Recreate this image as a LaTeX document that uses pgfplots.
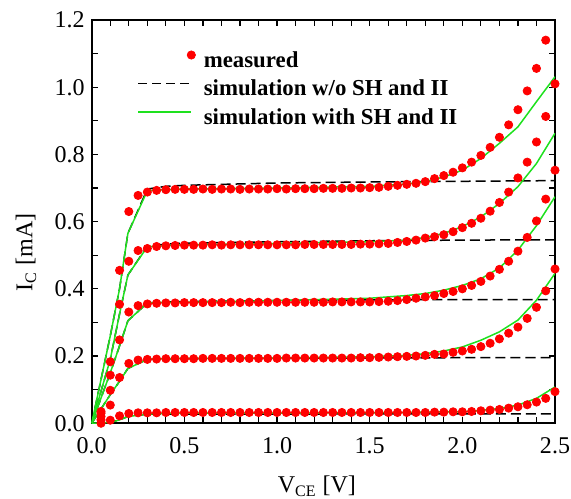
\documentclass[border=0pt]{standalone}
\usepackage{fontspec}
\setmainfont{Liberation Serif}
\usepackage{pgfplots}
\usepackage{pgfplotstable}
\pgfplotsset{compat=1.18}
\definecolor{simgreen}{RGB}{30,225,30}

% measured I_C [mA] for five base currents
\pgfplotstableread{
v    c1    c2    c3    c4    c5
0.05 0.035 0.030 0.020 0.010 0.000
0.10 0.183 0.143 0.098 0.054 0.009
0.15 0.455 0.354 0.248 0.136 0.022
0.20 0.630 0.482 0.331 0.178 0.029
0.25 0.678 0.514 0.350 0.188 0.031
0.30 0.688 0.520 0.355 0.190 0.031
0.35 0.693 0.526 0.357 0.191 0.031
0.40 0.695 0.528 0.358 0.192 0.032
0.45 0.696 0.529 0.358 0.192 0.032
0.50 0.696 0.530 0.359 0.192 0.032
0.55 0.696 0.530 0.359 0.192 0.032
0.60 0.697 0.530 0.359 0.193 0.032
0.65 0.696 0.531 0.359 0.193 0.032
0.70 0.697 0.530 0.359 0.193 0.032
0.75 0.697 0.531 0.360 0.193 0.032
0.80 0.696 0.531 0.359 0.193 0.032
0.85 0.697 0.531 0.360 0.193 0.032
0.90 0.697 0.531 0.360 0.193 0.032
0.95 0.697 0.531 0.360 0.193 0.032
1.00 0.698 0.531 0.360 0.193 0.032
1.05 0.697 0.531 0.360 0.194 0.032
1.10 0.698 0.531 0.360 0.194 0.032
1.15 0.698 0.532 0.360 0.194 0.032
1.20 0.698 0.532 0.360 0.194 0.032
1.25 0.699 0.532 0.360 0.194 0.032
1.30 0.699 0.532 0.361 0.194 0.032
1.35 0.699 0.532 0.361 0.194 0.032
1.40 0.700 0.532 0.361 0.194 0.032
1.45 0.700 0.533 0.361 0.195 0.032
1.50 0.701 0.533 0.361 0.195 0.032
1.55 0.702 0.534 0.362 0.196 0.032
1.60 0.705 0.535 0.363 0.197 0.032
1.65 0.708 0.538 0.365 0.198 0.032
1.70 0.711 0.541 0.368 0.199 0.032
1.75 0.714 0.545 0.372 0.200 0.032
1.80 0.719 0.551 0.376 0.202 0.032
1.85 0.728 0.555 0.380 0.205 0.033
1.90 0.737 0.561 0.386 0.206 0.033
1.95 0.747 0.570 0.392 0.211 0.034
2.00 0.760 0.582 0.400 0.215 0.034
2.05 0.777 0.595 0.410 0.220 0.035
2.10 0.797 0.610 0.422 0.228 0.037
2.15 0.821 0.631 0.438 0.238 0.039
2.20 0.851 0.657 0.458 0.251 0.041
2.25 0.888 0.688 0.482 0.268 0.045
2.30 0.933 0.730 0.512 0.286 0.049
2.35 0.989 0.777 0.553 0.312 0.055
2.40 1.056 0.837 0.602 0.345 0.063
2.45 1.140 0.913 0.667 0.394 0.074
2.50 1.235 1.010 0.753 0.459 0.094
}\meas

% simulation with self-heating and impact ionisation
\pgfplotstableread{
v     g1    g2    g3    g4    g5
0.000 0.000 0.000 0.000 0.000 0.000
0.100 0.260 0.190 0.150 0.085 0.002
0.150 0.400 0.325 0.230 0.125 0.010
0.195 0.565 0.441 0.305 0.163 0.020
0.300 0.692 0.525 0.358 0.190 0.027
0.400 0.695 0.529 0.360 0.192 0.029
0.500 0.697 0.531 0.360 0.193 0.030
1.000 0.700 0.535 0.365 0.194 0.030
1.500 0.705 0.540 0.372 0.198 0.031
1.700 0.712 0.545 0.380 0.202 0.032
1.800 0.719 0.553 0.386 0.207 0.033
1.900 0.733 0.565 0.396 0.215 0.034
2.000 0.753 0.585 0.410 0.227 0.034
2.100 0.788 0.614 0.430 0.247 0.038
2.200 0.833 0.654 0.462 0.272 0.044
2.300 0.882 0.704 0.515 0.307 0.054
2.400 0.957 0.773 0.588 0.366 0.074
2.500 1.031 0.863 0.674 0.446 0.108
}\gsim

% simulation without self-heating and impact ionisation
\pgfplotstableread{
v     d1    d2    d3    d4    d5
0.000 0.000 0.000 0.000 0.000 0.000
0.100 0.260 0.190 0.150 0.085 0.002
0.150 0.400 0.325 0.230 0.125 0.010
0.195 0.565 0.441 0.305 0.163 0.020
0.300 0.697 0.527 0.358 0.190 0.027
0.400 0.705 0.533 0.361 0.191 0.027
0.500 0.708 0.536 0.362 0.192 0.027
1.000 0.715 0.540 0.365 0.193 0.027
1.500 0.718 0.543 0.367 0.194 0.028
2.000 0.720 0.545 0.368 0.195 0.028
2.500 0.722 0.546 0.368 0.195 0.028
}\dsim

\begin{document}
\begin{tikzpicture}
\useasboundingbox (-45.85pt,-37.5pt) rectangle (239.5pt,211.5pt);
\begin{axis}[
  at={(0pt,0pt)}, anchor=south west,
  scale only axis, width=231.5pt, height=201.5pt,
  xmin=0, xmax=2.5, ymin=0, ymax=1.2,
  xtick={0,0.5,1,1.5,2,2.5},
  ytick={0,0.2,0.4,0.6,0.8,1.0,1.2},
  minor x tick num=4, minor y tick num=1,
  tick align=inside,
  major tick length=3pt, minor tick length=3pt,
  every tick/.style={black, line width=0.6pt},
  axis line style={line width=0.9pt},
  tick label style={font=\fontsize{12}{14}\selectfont,
    /pgf/number format/assume math mode=true,
    /pgf/number format/fixed, /pgf/number format/fixed zerofill,
    /pgf/number format/precision=1},
  xticklabel style={yshift=-3.5pt},
  label style={font=\fontsize{12}{14}\selectfont},
  xlabel={V\textsubscript{CE} [V]},
  ylabel={I\textsubscript{C} [mA]},
  xlabel style={at={(axis description cs:0.486,-0.172)}, anchor=base},
  ylabel style={at={(axis description cs:-0.128,0.424)}, anchor=base},
  legend cell align=left,
  legend style={draw=none, fill=none,
    at={(axis description cs:0.098,0.938)}, anchor=north west,
    inner sep=0pt, row sep=1.2pt, column sep=4pt,
    nodes={inner sep=0pt, text height=8pt, text depth=2pt},
    font=\fontsize{11.4}{13}\selectfont\bfseries},
]
\addlegendimage{legend image code/.code={
  \path[draw=none, fill=none] (0pt,-2pt) rectangle (28.5pt,8pt);
  \fill[red] (26.5pt,3.2pt) circle (2.05pt);}}
\addlegendentry{measured}
\addlegendimage{legend image code/.code={
  \path[draw=none, fill=none] (0pt,-2pt) rectangle (28.5pt,8pt);
  \draw[black, line width=0.75pt, dash pattern=on 4.5pt off 2.5pt] (0pt,3.2pt) -- (26.5pt,3.2pt);}}
\addlegendentry{simulation w/o SH and II}
\addlegendimage{legend image code/.code={
  \path[draw=none, fill=none] (0pt,-2pt) rectangle (28.5pt,8pt);
  \draw[simgreen, line width=0.75pt] (0pt,3.2pt) -- (26.5pt,3.2pt);}}
\addlegendentry{simulation with SH and II}

\addplot[only marks, mark=*, mark size=2.05pt, red, forget plot] table[x=v,y=c1]{\meas};
\addplot[only marks, mark=*, mark size=2.05pt, red, forget plot] table[x=v,y=c2]{\meas};
\addplot[only marks, mark=*, mark size=2.05pt, red, forget plot] table[x=v,y=c3]{\meas};
\addplot[only marks, mark=*, mark size=2.05pt, red, forget plot] table[x=v,y=c4]{\meas};
\addplot[only marks, mark=*, mark size=2.05pt, red, forget plot] table[x=v,y=c5]{\meas};

\addplot[black, line width=0.75pt, dash pattern=on 5pt off 2.5pt, forget plot] table[x=v,y=d1]{\dsim};
\addplot[black, line width=0.75pt, dash pattern=on 5pt off 2.5pt, forget plot] table[x=v,y=d2]{\dsim};
\addplot[black, line width=0.75pt, dash pattern=on 5pt off 2.5pt, forget plot] table[x=v,y=d3]{\dsim};
\addplot[black, line width=0.75pt, dash pattern=on 5pt off 2.5pt, forget plot] table[x=v,y=d4]{\dsim};
\addplot[black, line width=0.75pt, dash pattern=on 5pt off 2.5pt, forget plot] table[x=v,y=d5]{\dsim};

\addplot[simgreen, line width=0.75pt, forget plot] table[x=v,y=g1]{\gsim};
\addplot[simgreen, line width=0.75pt, forget plot] table[x=v,y=g2]{\gsim};
\addplot[simgreen, line width=0.75pt, forget plot] table[x=v,y=g3]{\gsim};
\addplot[simgreen, line width=0.75pt, forget plot] table[x=v,y=g4]{\gsim};
\addplot[simgreen, line width=0.75pt, forget plot] table[x=v,y=g5]{\gsim};
\end{axis}
\end{tikzpicture}
\end{document}
